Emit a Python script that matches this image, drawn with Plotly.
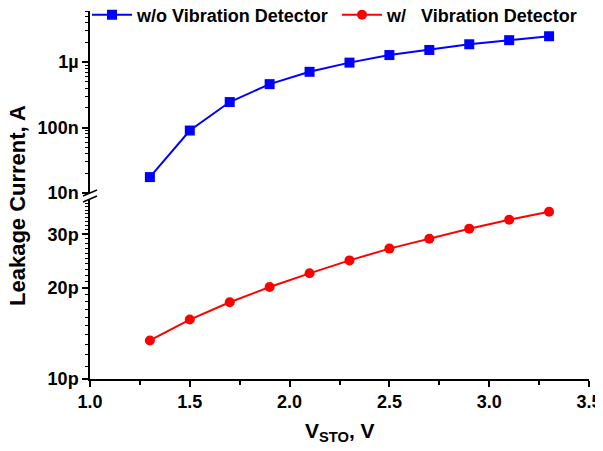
import plotly.graph_objects as go

v_sto = [1.3, 1.5, 1.7, 1.9, 2.1, 2.3, 2.5, 2.7, 2.9, 3.1, 3.3]
i_wo = [17.5e-9, 90e-9, 245e-9, 460e-9, 710e-9, 0.98e-6, 1.28e-6, 1.53e-6, 1.87e-6, 2.16e-6, 2.48e-6]
i_w = [13.4e-12, 15.7e-12, 17.9e-12, 20.1e-12, 22.3e-12, 24.6e-12, 26.9e-12, 29.0e-12, 31.3e-12, 33.5e-12, 35.6e-12]

top_ticks = [1e-8, 1e-7, 1e-6]
top_labels = ["10n", "100n", "1µ"]
bot_ticks = [10e-12, 20e-12, 30e-12]
bot_labels = ["10p", "20p", "30p"]
x_ticks = [1.0, 1.5, 2.0, 2.5, 3.0, 3.5]

FONT = "Liberation Sans, Arial, sans-serif"

top_minor = [m * 10 ** e for e in (-8, -7, -6) for m in range(2, 10) if m * 10 ** e < 6.5e-6]
bot_minor = [k * 1e-12 for k in range(11, 40) if k not in (20, 30)]

# screen-pixel helpers (the page body adds an 8px offset)
W, H = 595, 443
PL, PR, PT, PB = 90, 589, 11, 379
def sx(x):
    return (x - PL) / (PR - PL)
def sy(y):
    return (PB - y) / (PB - PT)

fig = go.Figure()
fig.add_trace(go.Scatter(x=v_sto, y=i_wo, mode="lines+markers", name="w/o Vibration Detector",
                         line=dict(color="#0000ff", width=2),
                         marker=dict(symbol="square", size=10, color="#0000ff"),
                         xaxis="x", yaxis="y2", legend="legend"))
fig.add_trace(go.Scatter(x=v_sto, y=i_w, mode="lines+markers", name="w/\u00a0\u00a0\u00a0Vibration Detector",
                         line=dict(color="#ff0000", width=2),
                         marker=dict(symbol="circle", size=10, color="#ff0000"),
                         xaxis="x", yaxis="y", legend="legend2"))

tickfont = dict(family=FONT, size=18, color="black", weight="bold")
legfont = dict(family=FONT, size=18, color="black", weight="bold")

fig.update_layout(
    width=W, height=H,
    margin=dict(l=PL - 8, r=W - (PR - 8), t=PT - 8, b=H - (PB - 8), autoexpand=False),
    paper_bgcolor="white", plot_bgcolor="white",
    showlegend=True,
    legend=dict(x=sx(87), y=sy(15), xanchor="left", yanchor="middle",
                bgcolor="rgba(0,0,0,0)", font=legfont, itemwidth=40),
    legend2=dict(x=sx(337), y=sy(15), xanchor="left", yanchor="middle",
                 bgcolor="rgba(0,0,0,0)", font=legfont, itemwidth=40),
    xaxis=dict(range=[1.0, 3.5], tickvals=x_ticks, ticktext=["%.1f" % v for v in x_ticks],
               showline=True, linecolor="black", linewidth=1.5, mirror=False,
               ticks="outside", ticklen=6, tickwidth=1.5, tickcolor="black",
               minor=dict(tickvals=[1.25, 1.75, 2.25, 2.75, 3.25], ticks="outside", ticklen=4, tickwidth=1.5, tickcolor="black"),
               showgrid=False, zeroline=False, tickfont=tickfont, anchor="y"),
    yaxis=dict(type="log", domain=[0, sy(200)], range=[-11, -10.41],
               tickvals=bot_ticks, ticktext=bot_labels,
               showline=True, linecolor="black", linewidth=1.5,
               ticks="outside", ticklen=6, tickwidth=1.5, tickcolor="black",
               minor=dict(tickvals=bot_minor, ticks="outside", ticklen=3, tickwidth=1, tickcolor="black"),
               showgrid=False, zeroline=False, tickfont=tickfont, anchor="x"),
    yaxis2=dict(type="log", domain=[sy(193), 1.0], range=[-8, -5.22],
                tickvals=top_ticks, ticktext=top_labels,
                showline=True, linecolor="black", linewidth=1.5,
                ticks="outside", ticklen=6, tickwidth=1.5, tickcolor="black",
                minor=dict(tickvals=top_minor, ticks="outside", ticklen=3, tickwidth=1, tickcolor="black"),
                showgrid=False, zeroline=False, tickfont=tickfont, anchor="x"),
)

# y-axis title spanning both panels
fig.add_annotation(text="Leakage Current, A", xref="paper", yref="paper", x=sx(17), y=sy(206),
                   textangle=-90, showarrow=False, xanchor="center", yanchor="middle",
                   font=dict(family=FONT, size=22, color="black", weight="bold"))
# x-axis title
fig.add_annotation(text="V<sub>STO</sub>, V", xref="paper", yref="paper", x=0.5, y=sy(432),
                   showarrow=False, xanchor="center", yanchor="middle",
                   font=dict(family=FONT, size=21, color="black", weight="bold"))

# axis-break marks
for dy in (0, 6):
    fig.add_shape(type="line", xref="paper", yref="paper",
                  x0=sx(83), y0=sy(196 + dy), x1=sx(97), y1=sy(190 + dy),
                  line=dict(color="black", width=1.5))

fig.write_html("out.html")
